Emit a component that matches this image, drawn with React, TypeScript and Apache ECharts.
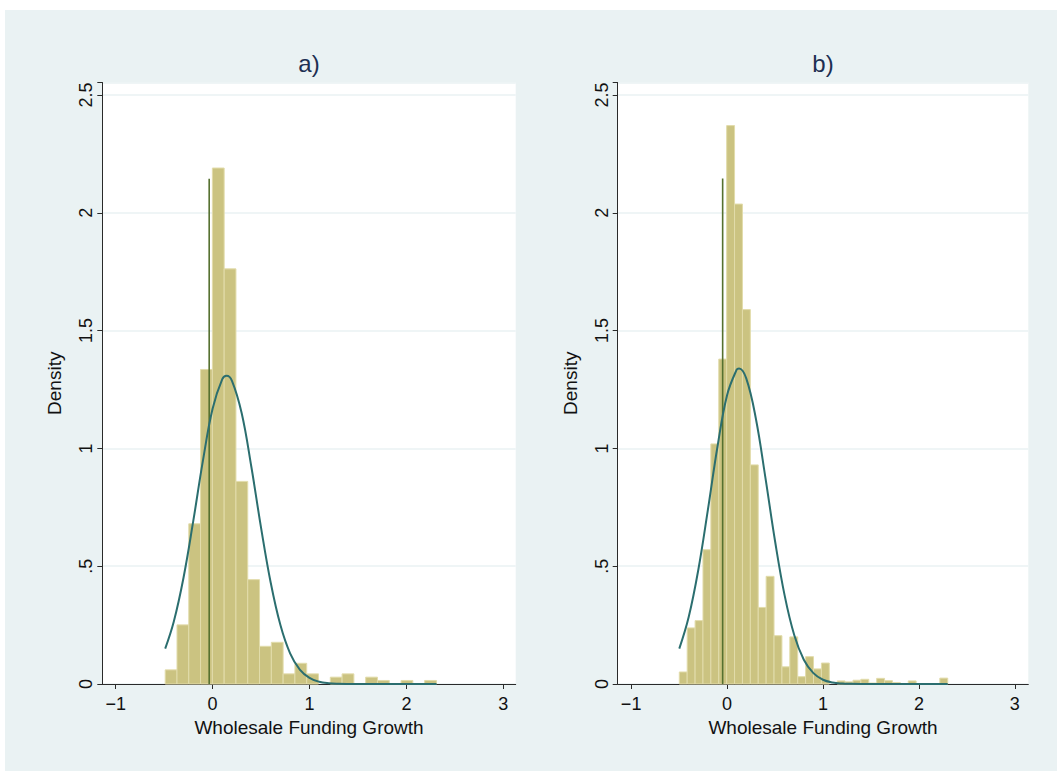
import React, { useEffect, useRef } from "react";
import * as echarts from "echarts";

// ---- data ----
const panelTitles = ["a)", "b)"];
const xAxisTitle = "Wholesale Funding Growth";
const yAxisTitle = "Density";
const xTickValues = [-1, 0, 1, 2, 3];
const yTickValues = [0, 0.5, 1, 1.5, 2, 2.5];
const yTickLabels = ["0", ".5", "1", "1.5", "2", "2.5"];

// panel a histogram
const binStartA = -0.489;
const binWidthA = 0.1217;
const densityA = [
  0.06, 0.251, 0.68, 1.335, 2.19, 1.762, 0.86, 0.443, 0.16, 0.177, 0.043, 0.088,
  0.043, 0, 0.029, 0.043, 0, 0.029, 0.015, 0, 0.015, 0, 0.015,
];
// panel a normal curve
const curveXA = [-0.489, -0.4, -0.3, -0.2, -0.1, 0, 0.1, 0.145, 0.2, 0.3, 0.4, 0.5, 0.6, 0.7, 0.8, 0.9, 1.0, 1.1, 1.2, 1.3, 1.4, 1.6, 1.8, 2.0, 2.2, 2.311];
const curveYA = [0.15, 0.265, 0.451, 0.69, 0.947, 1.168, 1.294, 1.308, 1.287, 1.15, 0.922, 0.664, 0.43, 0.25, 0.13, 0.061, 0.026, 0.0097, 0.0033, 0.001, 0.0003, 0, 0, 0, 0, 0];
// panel a vertical line
const vLineXA = -0.035;
const vLineTopA = 2.145;

// panel b histogram
const binStartB = -0.498;
const binWidthB = 0.0823;
const densityB = [
  0.051, 0.238, 0.269, 0.57, 1.019, 1.379, 2.37, 2.037, 1.589, 0.93, 0.325, 0.457,
  0.205, 0.073, 0.2, 0.031, 0.116, 0.064, 0.089, 0, 0.013, 0.009, 0.016, 0.02,
  0.004, 0.024, 0.014, 0.006, 0, 0.013, 0, 0, 0, 0.025,
];
// panel b normal curve
const curveXB = [-0.498, -0.4, -0.3, -0.2, -0.1, 0, 0.1, 0.125, 0.2, 0.3, 0.4, 0.5, 0.6, 0.7, 0.8, 0.9, 1.0, 1.1, 1.2, 1.3, 1.4, 1.6, 1.8, 2.0, 2.2, 2.3];
const curveYB = [0.15, 0.284, 0.484, 0.739, 1.007, 1.226, 1.334, 1.339, 1.297, 1.127, 0.875, 0.607, 0.376, 0.208, 0.103, 0.046, 0.018, 0.0063, 0.002, 0.0006, 0.0001, 0, 0, 0, 0, 0];
// panel b vertical line
const vLineXB = -0.046;
const vLineTopB = 2.146;

// ---- styles ----
const BG = "#EAF2F3";
const BAR_FILL = "#CBC381";
const BAR_STROKE = "#E2DCAB";
const CURVE = "#2B6E6F";
const VLINE = "#55702F";
const AXIS = "#2a2a2a";
const FONT = "'Liberation Sans', Arial, sans-serif";
const TITLE = "#1d2f52";

function barData(start: number, width: number, dens: number[]) {
  const out: number[][] = [];
  dens.forEach((d, i) => {
    if (d > 0) out.push([start + i * width, start + (i + 1) * width, d]);
  });
  return out;
}

function renderBar(_params: any, api: any) {
  const x0 = api.value(0);
  const x1 = api.value(1);
  const h = api.value(2);
  const p0 = api.coord([x0, 0]);
  const p1 = api.coord([x1, h]);
  return {
    type: "rect",
    shape: { x: p0[0], y: p1[1], width: p1[0] - p0[0], height: p0[1] - p1[1] },
    style: { fill: BAR_FILL, stroke: BAR_STROKE, lineWidth: 1 },
  };
}

const fmtX = (v: number) => (v < 0 ? "\u2212" + Math.abs(v) : String(v));
const fmtY = (v: number) => {
  const i = yTickValues.findIndex((t) => Math.abs(t - v) < 1e-6);
  return i >= 0 ? yTickLabels[i] : "";
};

function xAxis(gridIndex: number, min: number, max: number) {
  return {
    type: "value",
    gridIndex,
    min,
    max,
    name: xAxisTitle,
    nameLocation: "middle",
    nameGap: 32,
    nameTextStyle: { fontFamily: FONT, fontSize: 19, color: "#111" },
    axisLine: { show: true, onZero: false, lineStyle: { color: AXIS, width: 1 } },
    axisTick: { show: true, length: 5, lineStyle: { color: AXIS }, customValues: xTickValues },
    axisLabel: {
      show: true,
      customValues: xTickValues,
      formatter: fmtX,
      margin: 11,
      fontFamily: FONT,
      fontSize: 18,
      color: "#111",
    },
    splitLine: { show: false },
  };
}

function yAxis(gridIndex: number) {
  return {
    type: "value",
    gridIndex,
    min: 0,
    max: 2.553,
    interval: 0.5,
    name: yAxisTitle,
    nameLocation: "middle",
    nameRotate: 90,
    nameGap: 38,
    nameTextStyle: { fontFamily: FONT, fontSize: 19, color: "#111" },
    axisLine: { show: true, onZero: false, lineStyle: { color: AXIS, width: 1 } },
    axisTick: { show: true, length: 5, lineStyle: { color: AXIS } },
    axisLabel: {
      show: true,
      rotate: 90,
      formatter: fmtY,
      margin: 7,
      fontFamily: FONT,
      fontSize: 18,
      color: "#111",
    },
    splitLine: { show: true, lineStyle: { color: BG, width: 1.5 } },
  };
}

const option: any = {
  animation: false,
  backgroundColor: BG,
  graphic: [
    { type: "rect", shape: { x: 0, y: 0, width: 1057, height: 10 }, style: { fill: "#fff" }, z: -10 },
    { type: "rect", shape: { x: 0, y: 0, width: 5, height: 771 }, style: { fill: "#fff" }, z: -10 },
    {
      type: "text",
      x: 309,
      y: 63,
      style: { text: panelTitles[0], fontFamily: FONT, fontSize: 24, fill: TITLE, textAlign: "center", textVerticalAlign: "middle" },
    },
    {
      type: "text",
      x: 823,
      y: 63,
      style: { text: panelTitles[1], fontFamily: FONT, fontSize: 24, fill: TITLE, textAlign: "center", textVerticalAlign: "middle" },
    },
  ],
  grid: [
    { left: 102.3, top: 82.5, width: 413.4, height: 601.5, show: true, backgroundColor: "#fff", borderWidth: 0 },
    { left: 617.7, top: 82.5, width: 410.6, height: 601.5, show: true, backgroundColor: "#fff", borderWidth: 0 },
  ],
  xAxis: [xAxis(0, -1.138, 3.128), xAxis(1, -1.14, 3.14)],
  yAxis: [yAxis(0), yAxis(1)],
  series: [
    {
      type: "custom",
      xAxisIndex: 0,
      yAxisIndex: 0,
      renderItem: renderBar,
      data: barData(binStartA, binWidthA, densityA),
      encode: { x: [0, 1], y: 2 },
      z: 2,
    },
    {
      type: "line",
      xAxisIndex: 0,
      yAxisIndex: 0,
      data: [[vLineXA, 0], [vLineXA, vLineTopA]],
      symbol: "none",
      lineStyle: { color: VLINE, width: 1.6 },
      z: 3,
    },
    {
      type: "line",
      xAxisIndex: 0,
      yAxisIndex: 0,
      data: curveXA.map((x, i) => [x, curveYA[i]]),
      symbol: "none",
      smooth: 0.4,
      lineStyle: { color: CURVE, width: 2 },
      z: 4,
    },
    {
      type: "custom",
      xAxisIndex: 1,
      yAxisIndex: 1,
      renderItem: renderBar,
      data: barData(binStartB, binWidthB, densityB),
      encode: { x: [0, 1], y: 2 },
      z: 2,
    },
    {
      type: "line",
      xAxisIndex: 1,
      yAxisIndex: 1,
      data: [[vLineXB, 0], [vLineXB, vLineTopB]],
      symbol: "none",
      lineStyle: { color: VLINE, width: 1.6 },
      z: 3,
    },
    {
      type: "line",
      xAxisIndex: 1,
      yAxisIndex: 1,
      data: curveXB.map((x, i) => [x, curveYB[i]]),
      symbol: "none",
      smooth: 0.4,
      lineStyle: { color: CURVE, width: 2 },
      z: 4,
    },
  ],
};

export default function App() {
  const ref = useRef<HTMLDivElement>(null);
  useEffect(() => {
    const chart = echarts.init(ref.current!, null, { renderer: "svg" });
    chart.setOption(option);
    return () => chart.dispose();
  }, []);
  return (
    <div
      ref={ref}
      style={{ position: "absolute", left: 0, top: 0, width: 1057, height: 771 }}
    />
  );
}
